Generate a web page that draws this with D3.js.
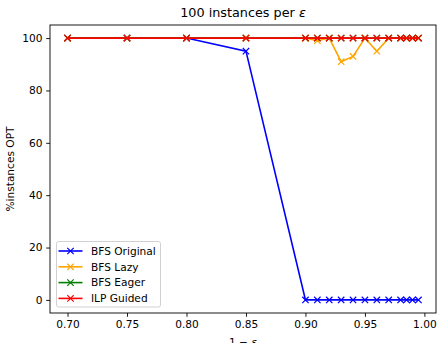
<!DOCTYPE html>
<html>
<head>
<meta charset="utf-8">
<script src="https://cdn.jsdelivr.net/npm/d3@7"></script>
<style>
  body { margin: 0; background: #fff; }
  text { font-family: "DejaVu Sans", sans-serif; fill: #000; }
</style>
</head>
<body>
<div id="chart"></div>
<script>
// data
var xs = [0.70, 0.75, 0.80, 0.85, 0.90, 0.91, 0.92, 0.93, 0.94, 0.95, 0.96, 0.97, 0.98, 0.985, 0.99, 0.995];
var bfsOriginal = [100, 100, 100, 95, 0, 0, 0, 0, 0, 0, 0, 0, 0, 0, 0, 0];
var bfsLazy     = [100, 100, 100, 100, 100, 99, 100, 91, 93, 100, 95, 100, 100, 100, 100, 100];
var bfsEager    = [100, 100, 100, 100, 100, 100, 100, 100, 100, 100, 100, 100, 100, 100, 100, 100];
var ilpGuided   = [100, 100, 100, 100, 100, 100, 100, 100, 100, 100, 100, 100, 100, 100, 100, 100];
var seriesNames = ["BFS Original", "BFS Lazy", "BFS Eager", "ILP Guided"];
var seriesColors = ["blue", "orange", "green", "red"];
var xTicks = [0.70, 0.75, 0.80, 0.85, 0.90, 0.95, 1.00];
var yTicks = [0, 20, 40, 60, 80, 100];

var margin = {top: 25, right: 2, bottom: 30, left: 50},
    width = 438 - margin.left - margin.right,
    height = 343 - margin.top - margin.bottom;

var svg = d3.select("#chart")
  .append("svg")
    .attr("width", 438)
    .attr("height", 343)
  .append("g")
    .attr("transform", "translate(" + margin.left + "," + margin.top + ")");

// matplotlib style 5% padding
var xPad = (0.995 - 0.70) * 0.05;
var X = d3.scaleLinear()
    .domain([0.70 - xPad, 0.995 + xPad])
    .range([0, width]);
var Y = d3.scaleLinear()
    .domain([-5, 105])
    .range([height, 0]);

var xAxis = svg.append("g")
    .attr("transform", "translate(0," + height + ")")
    .call(d3.axisBottom(X).tickValues(xTicks).tickFormat(d3.format(".2f")).tickSize(3.8).tickPadding(3.8));
var yAxis = svg.append("g")
    .call(d3.axisLeft(Y).tickValues(yTicks).tickSize(3.8).tickPadding(3.8));
[xAxis, yAxis].forEach(function(a) {
  a.select(".domain").remove();
  a.selectAll("text").style("font-size", "10.6px").style("font-family", "DejaVu Sans");
  a.selectAll("line").attr("stroke", "#000").attr("stroke-width", 0.9);
});

var allSeries = [bfsOriginal, bfsLazy, bfsEager, ilpGuided];
var line = d3.line()
    .x(function(d, i) { return X(xs[i]); })
    .y(function(d) { return Y(d); });

function cross(g, cx, cy, s, color) {
  g.append("path")
    .attr("d", "M" + (cx - s) + "," + (cy - s) + "L" + (cx + s) + "," + (cy + s) +
               "M" + (cx - s) + "," + (cy + s) + "L" + (cx + s) + "," + (cy - s))
    .attr("stroke", color)
    .attr("stroke-width", 1.2)
    .attr("fill", "none");
}

allSeries.forEach(function(vals, k) {
  svg.append("path")
    .datum(vals)
    .attr("d", line)
    .attr("fill", "none")
    .attr("stroke", seriesColors[k])
    .attr("stroke-width", 1.6);
  var mg = svg.append("g");
  vals.forEach(function(v, i) {
    cross(mg, X(xs[i]), Y(v), 3.2, seriesColors[k]);
  });
});

// frame
svg.append("rect")
  .attr("width", width)
  .attr("height", height)
  .attr("fill", "none")
  .attr("stroke", "#000")
  .attr("stroke-width", 0.9);

// title and labels
var title = svg.append("text")
  .attr("x", width / 2)
  .attr("y", -8)
  .attr("text-anchor", "middle")
  .style("font-size", "12.8px");
title.append("tspan").text("100 instances per ");
title.append("tspan").style("font-style", "italic").text("ε");

svg.append("text")
  .attr("transform", "translate(-36," + (height / 2) + ") rotate(-90)")
  .attr("text-anchor", "middle")
  .style("font-size", "10.6px")
  .text("%instances OPT");

var xl = svg.append("text")
  .attr("x", width / 2)
  .attr("y", height + 33)
  .attr("text-anchor", "middle")
  .style("font-size", "10.6px");
xl.append("tspan").text("1 − ");
xl.append("tspan").style("font-style", "italic").text("ε");

// legend
var legend = svg.append("g")
  .attr("transform", "translate(6.5," + (height - 71.5) + ")");
legend.append("rect")
  .attr("width", 104)
  .attr("height", 65.5)
  .attr("rx", 2)
  .attr("fill", "#fff")
  .attr("fill-opacity", 0.8)
  .attr("stroke", "#ccc")
  .attr("stroke-width", 0.9);
seriesNames.forEach(function(name, k) {
  var yy = 9.5 + k * 15.8;
  legend.append("line")
    .attr("x1", 2).attr("x2", 26)
    .attr("y1", yy).attr("y2", yy)
    .attr("stroke", seriesColors[k])
    .attr("stroke-width", 1.6);
  cross(legend, 14, yy, 3.2, seriesColors[k]);
  legend.append("text")
    .attr("x", 34.5)
    .attr("y", yy + 3.8)
    .style("font-size", "10.6px")
    .text(name);
});
</script>
</body>
</html>
